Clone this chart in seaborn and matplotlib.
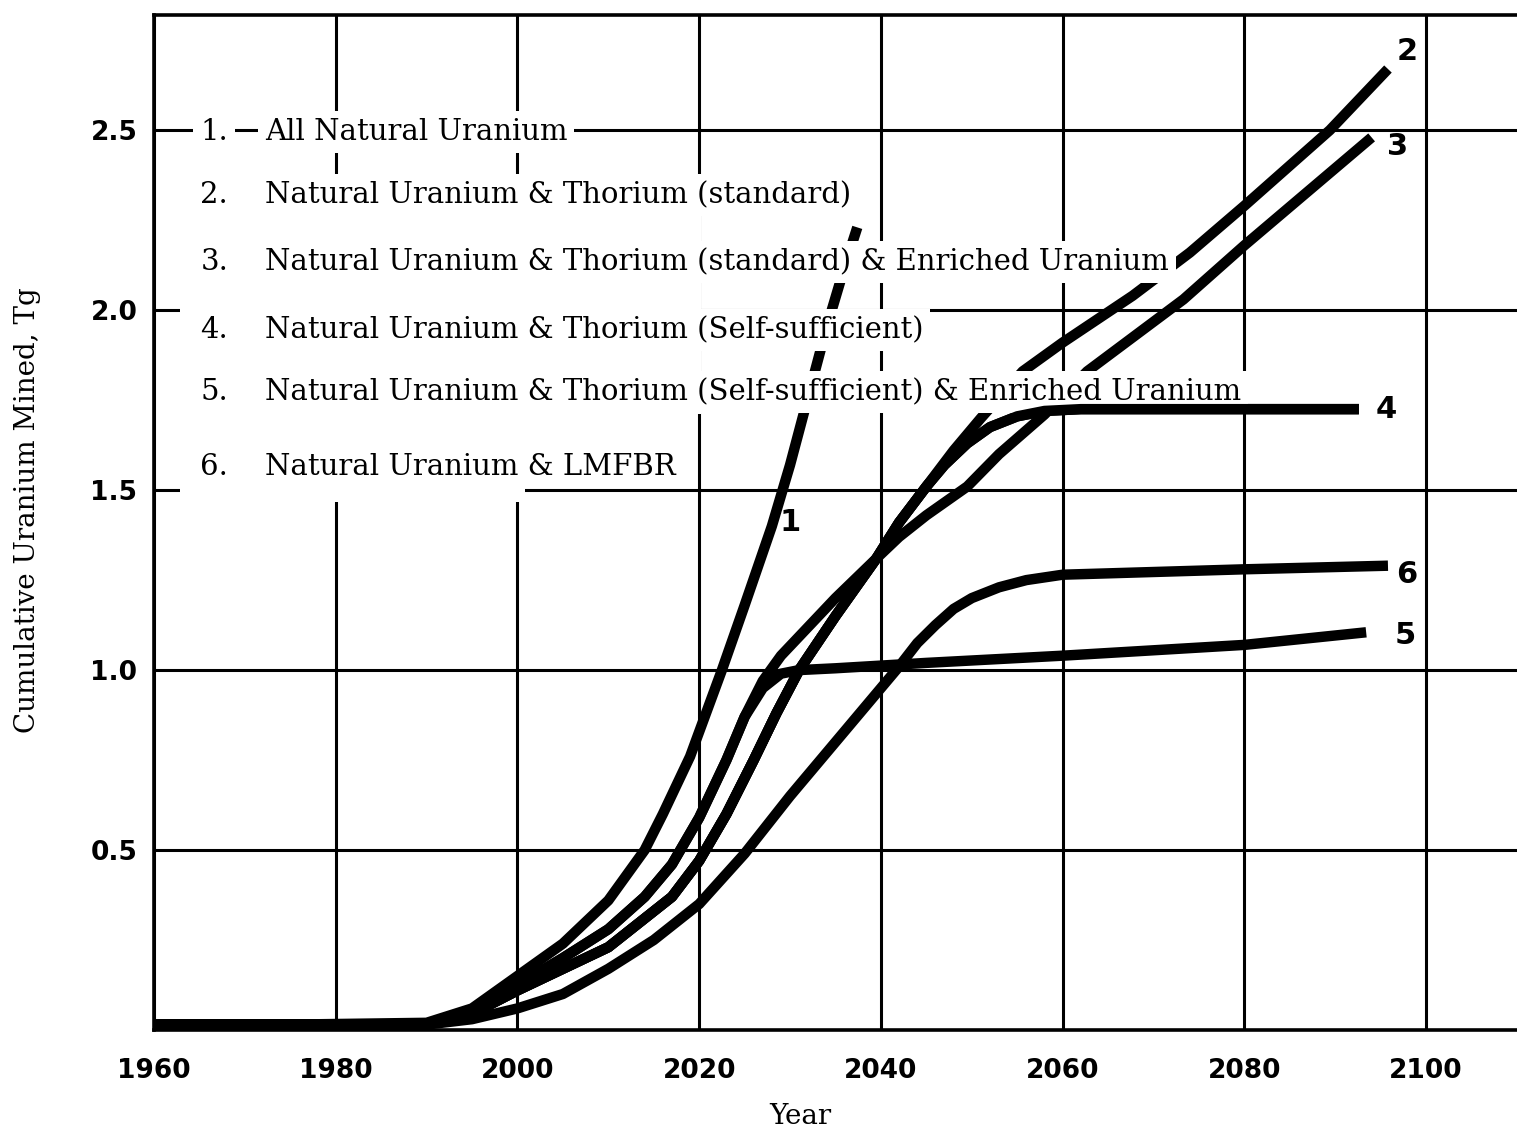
import matplotlib
matplotlib.use("Agg")
import matplotlib.pyplot as plt
import matplotlib.patches as mpatches
import numpy as np
import pandas as pd
import seaborn as sns

# ---------------- data ----------------
years_1 = [1960, 1975, 1990, 1995, 2000, 2005, 2010, 2014, 2016, 2019, 2022.5,
           2025, 2028, 2030, 2032, 2034, 2036, 2037.4]
mined_1 = [0.015, 0.015, 0.02, 0.06, 0.15, 0.24, 0.36, 0.50, 0.60, 0.76, 1.00,
           1.18, 1.40, 1.57, 1.76, 1.95, 2.12, 2.23]

years_2 = [1960, 1975, 1990, 1995, 2000, 2005, 2010, 2014, 2017, 2020, 2023,
           2026, 2028.5, 2031, 2035, 2039.5, 2042, 2045, 2048, 2051, 2055.6,
           2060, 2067.7, 2074, 2080, 2089.4, 2095.8]
mined_2 = [0.015, 0.015, 0.015, 0.045, 0.11, 0.17, 0.23, 0.31, 0.37, 0.47, 0.60,
           0.75, 0.88, 1.00, 1.15, 1.31, 1.41, 1.51, 1.61, 1.70, 1.83,
           1.91, 2.04, 2.16, 2.29, 2.50, 2.67]

years_3 = [1960, 1975, 1990, 1995, 2000, 2005, 2010, 2014, 2017, 2020, 2023,
           2025, 2027, 2029, 2032, 2035, 2039.5, 2042, 2045, 2049.5, 2053,
           2058, 2062.7, 2073.3, 2080, 2094]
mined_3 = [0.015, 0.015, 0.015, 0.05, 0.125, 0.20, 0.28, 0.37, 0.46, 0.59, 0.75,
           0.87, 0.97, 1.04, 1.12, 1.20, 1.31, 1.37, 1.43, 1.51, 1.60,
           1.71, 1.83, 2.03, 2.18, 2.48]

years_4 = [1960, 1975, 1990, 1995, 2000, 2005, 2010, 2014, 2017, 2020, 2023,
           2026, 2028.5, 2031, 2035, 2039.5, 2042, 2045, 2047, 2049.5, 2052,
           2055, 2058, 2062, 2092.6]
mined_4 = [0.015, 0.015, 0.015, 0.045, 0.11, 0.17, 0.23, 0.31, 0.37, 0.47, 0.60,
           0.75, 0.88, 1.00, 1.15, 1.31, 1.41, 1.51, 1.57, 1.63, 1.675,
           1.705, 1.72, 1.725, 1.725]

years_5 = [1960, 1975, 1990, 1995, 2000, 2005, 2010, 2014, 2017, 2020, 2023,
           2025, 2027, 2029, 2031, 2035, 2045, 2060, 2080, 2093.4]
mined_5 = [0.015, 0.015, 0.015, 0.05, 0.125, 0.20, 0.28, 0.37, 0.46, 0.59, 0.75,
           0.87, 0.95, 0.99, 1.00, 1.005, 1.02, 1.04, 1.07, 1.105]

years_6 = [1960, 1975, 1990, 1995, 2000, 2005, 2010, 2015, 2020, 2025, 2030,
           2035, 2040, 2042, 2044, 2046, 2048, 2050, 2053, 2056, 2060, 2080, 2095.8]
mined_6 = [0.015, 0.015, 0.015, 0.03, 0.06, 0.10, 0.17, 0.25, 0.35, 0.49, 0.65,
           0.80, 0.95, 1.01, 1.075, 1.125, 1.17, 1.20, 1.23, 1.25, 1.265, 1.28, 1.29]

curve_ids = ["1", "2", "3", "4", "5", "6"]
legend_labels = [
    "All Natural Uranium",
    "Natural Uranium & Thorium (standard)",
    "Natural Uranium & Thorium (standard) & Enriched Uranium",
    "Natural Uranium & Thorium (Self-sufficient)",
    "Natural Uranium & Thorium (Self-sufficient) & Enriched Uranium",
    "Natural Uranium & LMFBR",
]
# end-of-curve labels: (year, value) where the number sits
end_label_pos = {"1": (2030.0, 1.41), "2": (2097.9, 2.72), "3": (2096.9, 2.455),
                 "4": (2095.6, 1.725), "5": (2097.7, 1.097), "6": (2097.9, 1.265)}

x_ticks = [1960, 1980, 2000, 2020, 2040, 2060, 2080, 2100]
y_ticks = [0.5, 1.0, 1.5, 2.0, 2.5]
y_ticklabels = ["0.5", "1.0", "1.5", "2.0", "2.5"]

all_years = [years_1, years_2, years_3, years_4, years_5, years_6]
all_mined = [mined_1, mined_2, mined_3, mined_4, mined_5, mined_6]
df = pd.concat(
    [pd.DataFrame({"year": y, "mined": m, "curve": c})
     for y, m, c in zip(all_years, all_mined, curve_ids)],
    ignore_index=True)

# ---------------- figure ----------------
sns.set_theme(style="white")
plt.rcParams["font.family"] = ["DejaVu Sans"]
plt.rcParams["text.color"] = "black"
plt.rcParams["axes.labelcolor"] = "black"
plt.rcParams["xtick.color"] = "black"
plt.rcParams["ytick.color"] = "black"

fig = plt.figure(figsize=(15.17, 11.30), dpi=100)
ax = fig.add_axes([0.1015, 0.0885, 0.8985, 0.8982])
ax.set_xlim(1960, 2110)
ax.set_ylim(0, 2.82)

ax.set_axisbelow(True)
ax.set_xticks(x_ticks)
ax.set_yticks(y_ticks)
ax.set_yticklabels(y_ticklabels)
ax.grid(True, color="black", linewidth=2.2)
ax.tick_params(length=0, labelsize=19, colors="black")
ax.tick_params(axis="x", pad=20)
ax.tick_params(axis="y", pad=12)
for lab in ax.get_xticklabels() + ax.get_yticklabels():
    lab.set_fontweight("bold")

for side in ["left", "bottom", "top"]:
    ax.spines[side].set_visible(True)
    ax.spines[side].set_color("black")
    ax.spines[side].set_linewidth(2.6)
ax.spines["right"].set_visible(False)

# white areas where the legend was pasted over the grid
for (x0, y0, w, h) in [(0.019, 0.607, 0.382, 0.235), (0.019, 0.520, 0.253, 0.090)]:
    ax.add_patch(mpatches.Rectangle((x0, y0), w, h, transform=ax.transAxes,
                                    facecolor="white", edgecolor="none", zorder=1))

sns.lineplot(data=df, x="year", y="mined", hue="curve",
             palette={c: "black" for c in curve_ids},
             estimator=None, sort=True, linewidth=7.5, legend=False, ax=ax,
             zorder=3, solid_capstyle="butt")
# curve 4 runs just under the 5th legend row: keep it in front of the text boxes
sns.lineplot(data=df[df["curve"] == "4"], x="year", y="mined", color="black",
             estimator=None, sort=True, linewidth=7.5, legend=False, ax=ax,
             zorder=7, solid_capstyle="butt")

ax.set_xlabel("Year", family="DejaVu Serif", fontsize=20, color="black")
ax.set_ylabel("Cumulative Uranium Mined, Tg", family="DejaVu Serif",
              fontsize=20, color="black")
ax.xaxis.set_label_coords(0.474, -0.072)
ax.yaxis.set_label_coords(-0.083, 0.512)

# legend rows
row_y = [0.8847, 0.8227, 0.7567, 0.6897, 0.6285, 0.5547]
box = dict(facecolor="white", edgecolor="none", pad=5)
for cid, lab, yy in zip(curve_ids, legend_labels, row_y):
    ax.text(0.034, yy, f"{cid}.", transform=ax.transAxes, family="DejaVu Serif",
            fontsize=21, va="center", ha="left", zorder=6, bbox=box,
            color="black")
    ax.text(0.0814, yy, lab, transform=ax.transAxes, family="DejaVu Serif",
            fontsize=21, va="center", ha="left", zorder=6, bbox=box,
            color="black")

for cid, (xx, yy) in end_label_pos.items():
    ax.text(xx, yy, cid, fontsize=22, ha="center", va="center", zorder=6,
            color="black", fontweight="bold")

fig.savefig("out.png", dpi=100)
